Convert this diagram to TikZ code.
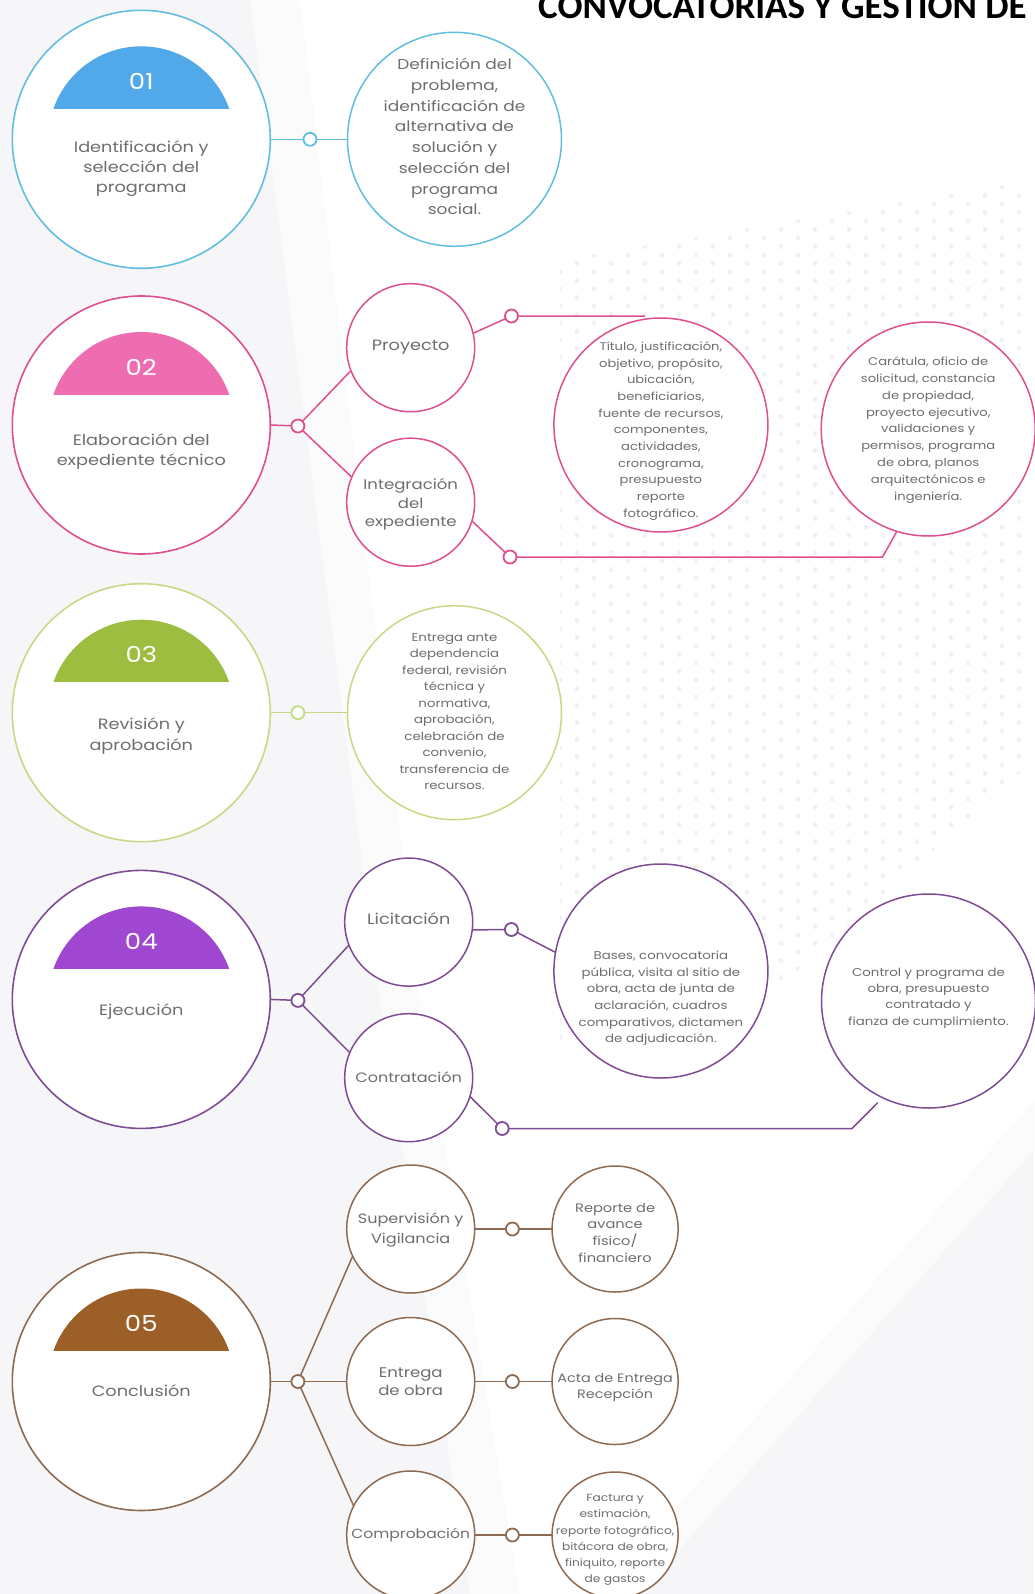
\documentclass[tikz,border=0pt]{standalone}
\usepackage{fontspec}
\setmainfont{Poppins}[FakeStretch=1.18]
\newfontfamily\titlefont{Carlito}
\usetikzlibrary{calc}
\definecolor{txtgray}{HTML}{6E6E6E}
\definecolor{bggray}{HTML}{F6F6F8}
\definecolor{dotgray}{HTML}{F1F1F4}
\definecolor{blueO}{HTML}{62BEDF}
\definecolor{blueC}{HTML}{52A9EA}
\definecolor{pinkO}{HTML}{DE4F90}
\definecolor{pinkC}{HTML}{EE6DB0}
\definecolor{greenO}{HTML}{C4DA86}
\definecolor{greenC}{HTML}{9CBD3F}
\definecolor{purpO}{HTML}{7E4C93}
\definecolor{purpC}{HTML}{A047D2}
\definecolor{brownO}{HTML}{8C6B52}
\definecolor{brownC}{HTML}{9C5F27}
\newcommand\myfs[2]{\fontsize{#1}{#2}\selectfont}
\newcommand\mycap[3]{%
  \begin{scope}
    \clip ($(#1.center)+(-100,-31)$) rectangle ($(#1.center)+(100,-100)$);
    \fill[#2] (#1.center) circle[radius=93pt];
  \end{scope}
  \node[capnum] (#1num) at ($(#1.center)+(0,-58)$) {#3};
}
\tikzset{
  bigc/.style={circle, draw=#1, line width=1.6pt, fill=white, minimum size=258pt, inner sep=0pt, outer sep=0pt},
  medc/.style={circle, draw=#1, line width=1.5pt, fill=white, minimum size=214pt, inner sep=0pt, outer sep=0pt},
  smc/.style={circle, draw=#1, line width=1.5pt, fill=white, minimum size=128pt, inner sep=0pt, outer sep=0pt},
  xsc/.style={circle, draw=#1, line width=1.5pt, fill=white, minimum size=126pt, inner sep=0pt, outer sep=0pt},
  knot/.style={circle, draw=#1, line width=1.8pt, fill=white, minimum size=13pt, inner sep=0pt, outer sep=0pt},
  conn/.style={draw=#1, line width=1.5pt},
  txt/.style={text=txtgray, align=center, inner sep=0pt},
  capnum/.style={text=white, font=\myfs{22}{22}, inner sep=0pt},
}
\begin{document}
\begin{tikzpicture}[x=1pt,y=-1pt]
\useasboundingbox (0,0) rectangle (1034,1594);
% background
\fill[bggray] (0,0) rectangle (1034,1594);
\fill[white!60!bggray] (250,0) -- (1034,0) -- (1034,1150) -- (640,1594) -- (470,1594) -- (380,1000) -- cycle;
\fill[white] (300,0) -- (1034,0) -- (1034,1100) -- (600,1594) -- (520,1594) -- (420,1000) -- cycle;
\begin{scope}
  \clip (560,260) -- (1034,180) -- (1034,760) -- (720,1040) -- (560,1040) -- cycle;
  \foreach \i in {0,...,28} {
    \foreach \j in {0,...,52} {
      \fill[dotgray] ({560+\i*17},{170+\j*17+mod(\i,2)*8.5}) circle[radius=2.4pt];
    }
  }
\end{scope}
% title
\node[anchor=base east, font=\titlefont\bfseries\myfs{37}{37}, text=black, inner sep=0pt] (title) at (1027,18.5) {CONVOCATORIAS Y GESTIÓN DE};

% ---------- Row 1
\node[bigc=blueO] (B1) at (141.3,139.3) {};
\mycap{B1}{blueC}{01}
\node[txt, font=\myfs{15}{20.3}] (B1t) at (141.3,168.8) {Identificación y\\selección del\\programa};
\node[medc=blueO] (C1) at (454.5,139.3) {};
\node[txt, font=\myfs{14.4}{20.7}] (C1t) at (454.5,136.7) {Definición del\\problema,\\identificación de\\alternativa de\\solución y\\selección del\\programa\\social.};
\node[knot=blueO] (d1) at (310,139.3) {};
\draw[conn=blueO] (B1.east) -- (d1) -- (C1.west);

% ---------- Row 2
\node[bigc=pinkO] (B2) at (141.3,425) {};
\mycap{B2}{pinkC}{02}
\node[txt, font=\myfs{15}{20.3}] (B2t) at (141.3,451.4) {Elaboración del\\expediente técnico};
\node[smc=pinkO] (P2) at (410.7,347.7) {};
\node[txt, font=\myfs{15}{18}] (P2t) at (410.7,347.7) {Proyecto};
\node[smc=pinkO] (I2) at (410.7,502.2) {};
\node[txt, font=\myfs{14}{18.3}] (I2t) at (410.7,504.3) {Integración\\del\\expediente};
\node[medc=pinkO] (T2) at (660.9,425) {};
\node[txt, font=\myfs{11.1}{16.7}] (T2t) at (660.9,431) {Título, justificación,\\objetivo, propósito,\\ubicación,\\beneficiarios,\\fuente de recursos,\\componentes,\\actividades,\\cronograma,\\presupuesto\\reporte\\fotográfico.};
\node[medc=pinkO] (C2) at (928.2,429) {};
\node[txt, font=\myfs{11.1}{16.8}] (C2t) at (928.2,430) {Carátula, oficio de\\solicitud, constancia\\de propiedad,\\proyecto ejecutivo,\\validaciones y\\permisos, programa\\de obra, planos\\arquitectónicos e\\ingeniería.};
\node[knot=pinkO] (d2) at (297.9,426) {};
\node[knot=pinkO] (d2a) at (511.5,316) {};
\node[knot=pinkO] (d2b) at (510,557) {};
\coordinate (e2a) at (645,316);
\coordinate (e2b) at (882.5,557);
\draw[conn=pinkO] (B2.east) -- (d2);
\draw[conn=pinkO] (d2) -- (P2.201);
\draw[conn=pinkO] (d2) -- (I2.157);
\draw[conn=pinkO] (P2.13) -- (d2a) -- (e2a);
\draw[conn=pinkO] (I2.343) -- (d2b) -- (e2b) -- (C2.253);

% ---------- Row 3
\node[bigc=greenO] (B3) at (141.3,712.7) {};
\mycap{B3}{greenC}{03}
\node[txt, font=\myfs{15}{20.3}] (B3t) at (141.3,736) {Revisión y\\aprobación};
\node[medc=greenO] (C3) at (454.5,712.7) {};
\node[txt, font=\myfs{11.3}{16.5}] (C3t) at (454.5,711.7) {Entrega ante\\dependencia\\federal, revisión\\técnica y\\normativa,\\aprobación,\\celebración de\\convenio,\\transferencia de\\recursos.};
\node[knot=greenO] (d3) at (297.9,712.7) {};
\draw[conn=greenO] (B3.east) -- (d3) -- (C3.west);

% ---------- Row 4
\node[bigc=purpO] (B4) at (141.3,999.4) {};
\mycap{B4}{purpC}{04}
\node[txt, font=\myfs{15}{20.3}] (B4t) at (141.3,1011.6) {Ejecución};
\node[smc=purpO] (L4) at (408.7,922.1) {};
\node[txt, font=\myfs{15}{18}] (L4t) at (408.7,919) {Licitación};
\node[smc=purpO] (K4) at (408.7,1077.7) {};
\node[txt, font=\myfs{13.6}{18}] (K4t) at (408.7,1076.7) {Contratación};
\node[medc=purpO] (T4) at (660.9,971) {};
\node[txt, font=\myfs{11.3}{16.7}] (T4t) at (660.9,998.4) {Bases, convocatoria\\pública, visita al sitio de\\obra, acta de junta de\\aclaración, cuadros\\comparativos, dictamen\\de adjudicación.};
\node[medc=purpO] (C4) at (928.5,1001) {};
\node[txt, font=\myfs{11.3}{16.4}] (C4t) at (928.5,997.9) {Control y programa de\\obra, presupuesto\\contratado y\\fianza de cumplimiento.};
\node[knot=purpO] (d4) at (297.9,1000.4) {};
\node[knot=purpO] (d4a) at (511.4,929.5) {};
\node[knot=purpO] (d4b) at (502.2,1128.5) {};
\coordinate (e4a) at (852,1128.5);
\coordinate (e4b) at (877.7,1102.7);
\draw[conn=purpO] (B4.east) -- (d4);
\draw[conn=purpO] (d4) -- (L4.201);
\draw[conn=purpO] (d4) -- (K4.157);
\draw[conn=purpO] (L4.-7) -- (d4a) -- (T4.170);
\draw[conn=purpO] (K4.343) -- (d4b) -- (e4a) -- (e4b);

% ---------- Row 5
\node[bigc=brownO] (B5) at (141.3,1381.5) {};
\mycap{B5}{brownC}{05}
\node[txt, font=\myfs{15}{20.3}] (B5t) at (141.3,1390.8) {Conclusión};
\node[smc=brownO] (S5) at (410.7,1229) {};
\node[txt, font=\myfs{13.6}{20.3}] (S5t) at (410.7,1230.2) {Supervisión y\\Vigilancia};
\node[smc=brownO] (E5) at (410.7,1381.5) {};
\node[txt, font=\myfs{14}{18.3}] (E5t) at (410.7,1381.7) {Entrega\\de obra};
\node[smc=brownO] (K5) at (410.7,1535) {};
\node[txt, font=\myfs{13.2}{18}] (K5t) at (410.7,1535.2) {Comprobación};
\node[xsc=brownO] (R5) at (615.1,1229) {};
\node[txt, font=\myfs{12.4}{16.6}] (R5t) at (615.1,1232.7) {Reporte de\\avance\\físico/\\financiero};
\node[xsc=brownO] (A5) at (615.1,1381.5) {};
\node[txt, font=\myfs{12.2}{16.3}] (A5t) at (615.1,1387.8) {Acta de Entrega\\Recepción};
\node[xsc=brownO] (F5) at (615.1,1535) {};
\node[txt, font=\myfs{10.4}{16.3}] (F5t) at (615.1,1540) {Factura y\\estimación,\\reporte fotográfico,\\bitácora de obra,\\finiquito, reporte\\de gastos};
\node[knot=brownO] (d5) at (297.9,1381.5) {};
\node[knot=brownO] (d5a) at (512.4,1229) {};
\node[knot=brownO] (d5b) at (512.4,1381.5) {};
\node[knot=brownO] (d5c) at (512.4,1535) {};
\draw[conn=brownO] (B5.east) -- (d5);
\draw[conn=brownO] (d5) -- (S5.205);
\draw[conn=brownO] (d5) -- (E5.west);
\draw[conn=brownO] (d5) -- (K5.153);
\draw[conn=brownO] (S5.east) -- (d5a) -- (R5.west);
\draw[conn=brownO] (E5.east) -- (d5b) -- (A5.west);
\draw[conn=brownO] (K5.east) -- (d5c) -- (F5.west);
\end{tikzpicture}
\end{document}
